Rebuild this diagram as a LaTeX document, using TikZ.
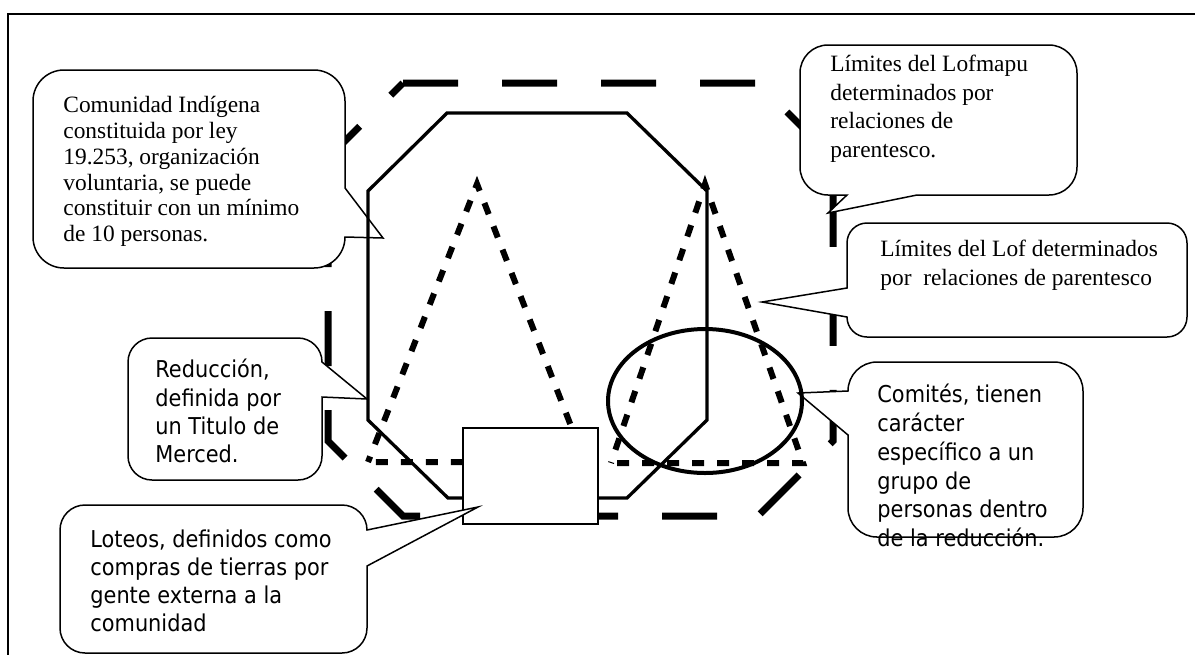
\documentclass[tikz,border=0pt]{standalone}
\usepackage{fontspec}
\setmainfont{Liberation Serif}
\newfontfamily\notesans{DejaVu Sans}[FakeStretch=0.9]
\begin{document}
\begin{tikzpicture}[x=0.5pt,y=-0.5pt,
  frame/.style={line width=1pt},
  lofmapu/.style={line width=3.5pt,dash pattern=on 27.5pt off 22pt},
  comunidad/.style={line width=1.65pt},
  lof/.style={line width=3pt,dash pattern=on 6pt off 6.5pt},
  comite/.style={line width=2pt},
  callout/.style={draw,fill=white,line width=0.75pt},
  serifnote/.style={anchor=north west,inner sep=0pt,align=left,font=\fontsize{11.7pt}{14.25pt}\selectfont},
  sansnote/.style={anchor=north west,inner sep=0pt,align=left,font=\notesans\fontsize{11.6pt}{14.15pt}\selectfont}]
\useasboundingbox (0,0) rectangle (1195,655);
% page frame
\draw[frame] (1195,14) -- (8,14) -- (8,655);
% Lofmapu (long dashes)
\draw[lofmapu] (403,83) -- (758,83) -- (833,158) -- (833,441) -- (758,516) -- (403,516) -- (328,441) -- (328,158) -- cycle;
% tips of the callouts
\coordinate (tipComunidad) at (383,238);
\coordinate (tipLofmapu) at (828,213);
\coordinate (tipLof) at (762,302);
\coordinate (tipReduccion) at (367,399);
\coordinate (tipLoteo) at (478,507);
\coordinate (tipComite) at (798,393);
% callouts
\draw[callout] (33,101) arc[start angle=180,end angle=270,radius=31] -- (314,70) arc[start angle=270,end angle=360,radius=31] -- (345,188) -- (tipComunidad) -- (345,237) arc[start angle=0,end angle=90,radius=31] -- (64,268) arc[start angle=90,end angle=180,radius=31] -- cycle;
\draw[callout] (800,73) arc[start angle=180,end angle=270,radius=28] -- (1049,45) arc[start angle=270,end angle=360,radius=28] -- (1077,167) arc[start angle=0,end angle=90,radius=28] -- (917,195) -- (tipLofmapu) -- (847,195) -- (828,195) arc[start angle=90,end angle=180,radius=28] -- cycle;
\draw[callout] (847,243) arc[start angle=180,end angle=270,radius=20] -- (1167,223) arc[start angle=270,end angle=360,radius=20] -- (1187,317) arc[start angle=0,end angle=90,radius=20] -- (867,337) arc[start angle=90,end angle=180,radius=20] -- (tipLof) -- (847,288) -- cycle;
\draw[callout] (128,362) arc[start angle=180,end angle=270,radius=24] -- (298,338) arc[start angle=270,end angle=360,radius=24] -- (tipReduccion) -- (322,397) -- (322,456) arc[start angle=0,end angle=90,radius=24] -- (152,480) arc[start angle=90,end angle=180,radius=24] -- cycle;
\draw[callout] (848,391) arc[start angle=180,end angle=270,radius=29] -- (1054,362) arc[start angle=270,end angle=360,radius=29] -- (1083,508) arc[start angle=0,end angle=90,radius=29] -- (877,537) arc[start angle=90,end angle=180,radius=29] -- (848,435) -- (tipComite) -- cycle;
% comunidad (solid octagon)
\draw[comunidad] (447,113) -- (627,113) -- (707,191) -- (707,420) -- (627,498) -- (448,498) -- (368,420) -- (368,191) -- cycle;
% lof (dotted triangles)
\draw[lof,dash phase=3pt] (368,462) -- (477,184) -- (585,462) -- cycle;
\draw[lof,dash phase=5.5pt] (611,463) -- (705,184) -- (803,463) -- cycle;
% comite
\draw[comite] (705,401) ellipse [x radius=97,y radius=72];
% loteo
\node[draw,fill=white,line width=0.75pt,minimum width=67.5pt,minimum height=48pt,inner sep=0pt] (loteo) at (530.5,476) {};
\draw[callout] (60,530) arc[start angle=180,end angle=270,radius=25] -- (342,505) arc[start angle=270,end angle=360,radius=25] -- (tipLoteo) -- (367,566) -- (367,628) arc[start angle=0,end angle=90,radius=25] -- (85,653) arc[start angle=90,end angle=180,radius=25] -- cycle;
% texts
\node[serifnote,font=\fontsize{11.7pt}{12.9pt}\selectfont] (tComunidad) at (63,96) {Comunidad Indígena\\constituida por ley\\19.253, organización\\voluntaria, se puede\\constituir con un mínimo\\de 10 personas.};
\node[serifnote] (tLofmapu) at (830,55) {Límites del Lofmapu\\determinados por\\relaciones de\\parentesco.};
\node[serifnote] (tLof) at (880,240) {Límites del Lof determinados\\por\ \ relaciones de parentesco};
\node[sansnote] (tReduccion) at (155,359) {Reducción,\\definida por\\un Titulo de\\Merced.};
\node[sansnote] (tLoteo) at (90,529) {Loteos, definidos como\\compras de tierras por\\gente externa a la\\comunidad};
\node[sansnote,font=\notesans\fontsize{11.6pt}{14.35pt}\selectfont] (tComite) at (877,384) {Comités, tienen\\carácter\\específico a un\\grupo de\\personas dentro\\de la reducción.};
\end{tikzpicture}
\end{document}
